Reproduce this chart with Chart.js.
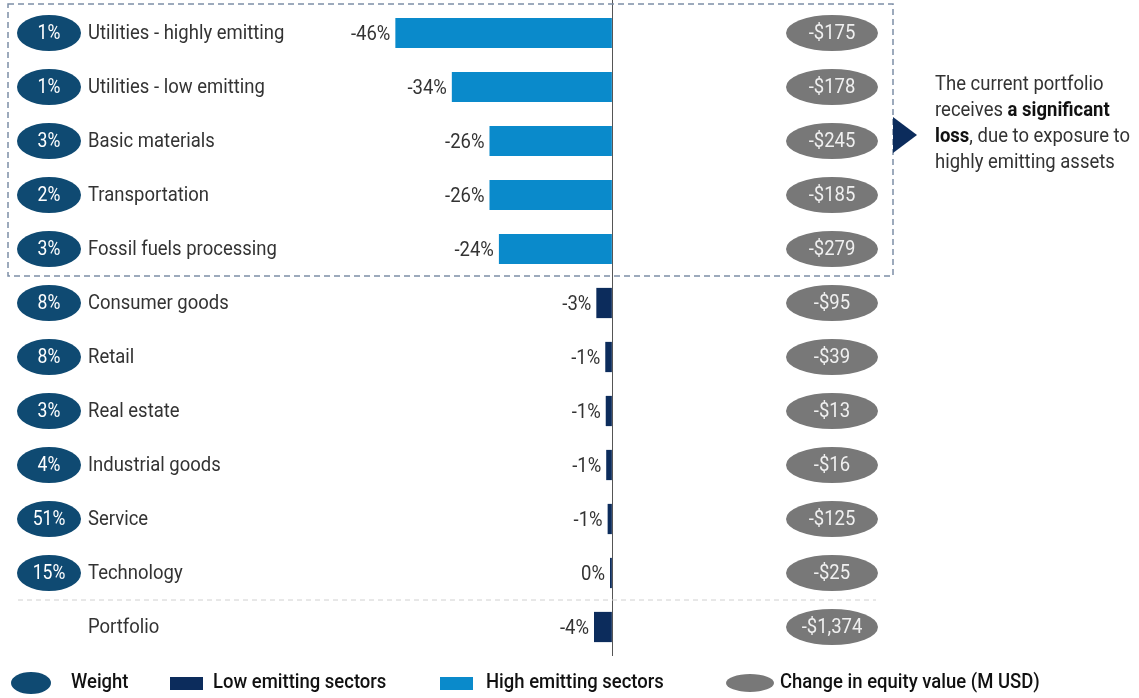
<!DOCTYPE html>
<html>
<head>
<meta charset="utf-8">
<script src="https://cdn.jsdelivr.net/npm/chart.js@4.4.1/dist/chart.umd.min.js"></script>
<style>
  html, body { margin: 0; padding: 0; background: #fff; }
  #wrap { width: 1139px; height: 698px; position: relative; }
</style>
</head>
<body>
<div id="wrap"><canvas id="myChart" width="1139" height="698"></canvas></div>
<script>
// sectors, top to bottom
const sectors = ['Utilities - highly emitting', 'Utilities - low emitting', 'Basic materials', 'Transportation',
    'Fossil fuels processing', 'Consumer goods', 'Retail', 'Real estate', 'Industrial goods', 'Service',
    'Technology', 'Portfolio'];
const weights = ['1%', '1%', '3%', '2%', '3%', '8%', '8%', '3%', '4%', '51%', '15%', ''];
const changePct = [-46, -34, -26, -26, -24, -3.3, -1.4, -1.3, -1.2, -0.9, -0.4, -3.8]; // bar values (%)
const pctLabels = ['-46%', '-34%', '-26%', '-26%', '-24%', '-3%', '-1%', '-1%', '-1%', '-1%', '0%', '-4%'];
const equityChange = ['-$175', '-$178', '-$245', '-$185', '-$279', '-$95', '-$39', '-$13', '-$16', '-$125', '-$25', '-$1,374'];
const emitting = ['high', 'high', 'high', 'high', 'high', 'low', 'low', 'low', 'low', 'low', 'low', 'low'];

const HIGH = '#0a8acb';
const LOW = '#0c2c5c';
const WEIGHT = '#0f4a72';
const GREY = '#787878';
const TEXT = '#333333';
const FONT = 'Roboto, "DejaVu Sans", sans-serif';
const SX = 0.88; // horizontal squeeze, reference uses a narrow face

function drawText(ctx, text, x, y, align, font, color, sx) {
    ctx.save();
    ctx.font = font;
    ctx.fillStyle = color;
    ctx.textBaseline = 'middle';
    ctx.textAlign = align;
    ctx.translate(x, y);
    ctx.scale(sx || SX, 1);
    ctx.fillText(text, 0, 0);
    ctx.restore();
}

function textWidth(ctx, text, font, sx) {
    ctx.font = font;
    return ctx.measureText(text).width * (sx || SX);
}

function ellipse(ctx, cx, cy, rx, ry, color) {
    ctx.beginPath();
    ctx.ellipse(cx, cy, rx, ry, 0, 0, Math.PI * 2);
    ctx.fillStyle = color;
    ctx.fill();
}

const decorPlugin = {
    id: 'decor',
    afterDatasetsDraw(chart) {
        const ctx = chart.ctx;
        const x = chart.scales.x;
        const y = chart.scales.y;
        const zero = x.getPixelForValue(0);
        const meta = chart.getDatasetMeta(0);
        const f = '21px ' + FONT;

        sectors.forEach((name, i) => {
            const cy = y.getPixelForValue(i);
            if (weights[i]) {
                ellipse(ctx, 49, cy, 32, 18, WEIGHT);
                drawText(ctx, weights[i], 49, cy + 1, 'center', '20px ' + FONT, '#ffffff');
            }
            drawText(ctx, name, 88, cy + 1, 'left', f, TEXT);
            // value label at bar end
            const bar = meta.data[i];
            drawText(ctx, pctLabels[i], bar.x - 5, cy + 2, 'right', f, TEXT);
            // change in equity value
            ellipse(ctx, 832, cy, 46, 18, GREY);
            drawText(ctx, equityChange[i], 832, cy + 1, 'center', f, '#f0f0f0');
        });

        // zero axis
        ctx.save();
        ctx.strokeStyle = '#555';
        ctx.lineWidth = 1;
        ctx.beginPath();
        ctx.moveTo(Math.round(zero) + 0.5, 0);
        ctx.lineTo(Math.round(zero) + 0.5, 656);
        ctx.stroke();

        // separator before Portfolio
        const sepY = (y.getPixelForValue(10) + y.getPixelForValue(11)) / 2;
        ctx.strokeStyle = '#d0d0d0';
        ctx.setLineDash([5, 4]);
        ctx.beginPath();
        ctx.moveTo(18, sepY);
        ctx.lineTo(876, sepY);
        ctx.stroke();

        // dashed box around high emitting sectors
        const boxBottom = (y.getPixelForValue(4) + y.getPixelForValue(5)) / 2;
        ctx.strokeStyle = '#7d8ea6';
        ctx.lineWidth = 1.5;
        ctx.setLineDash([6, 4]);
        ctx.strokeRect(8, 4, 885, boxBottom - 4);
        ctx.restore();

        // arrow and note
        ctx.beginPath();
        ctx.moveTo(893, 117);
        ctx.lineTo(893, 153);
        ctx.lineTo(917, 135);
        ctx.closePath();
        ctx.fillStyle = LOW;
        ctx.fill();

        const nx = 935;
        const nb = 'bold 21px ' + FONT;
        drawText(ctx, 'The current portfolio', nx, 85, 'left', f, TEXT);
        drawText(ctx, 'receives ', nx, 111, 'left', f, TEXT);
        drawText(ctx, 'a significant', nx + textWidth(ctx, 'receives ', f), 111, 'left', nb, '#111');
        drawText(ctx, 'loss', nx, 137, 'left', nb, '#111');
        drawText(ctx, ', due to exposure to', nx + textWidth(ctx, 'loss', nb), 137, 'left', f, TEXT);
        drawText(ctx, 'highly emitting assets', nx, 163, 'left', f, TEXT);

        // legend
        const ly = 683;
        const lf = '500 21px ' + FONT;
        ellipse(ctx, 31, ly, 20, 11, WEIGHT);
        drawText(ctx, 'Weight', 71, ly, 'left', lf, '#111');
        ctx.fillStyle = LOW;
        ctx.fillRect(170, ly - 6, 33, 13);
        drawText(ctx, 'Low emitting sectors', 213, ly, 'left', lf, '#111');
        ctx.fillStyle = HIGH;
        ctx.fillRect(440, ly - 6, 33, 13);
        drawText(ctx, 'High emitting sectors', 486, ly, 'left', lf, '#111');
        ellipse(ctx, 750, ly, 24, 9, GREY);
        drawText(ctx, 'Change in equity value (M USD)', 780, ly, 'left', lf, '#111');
    }
};

const ctx = document.getElementById('myChart').getContext('2d');
const myChart = new Chart(ctx, {
    type: 'bar',
    data: {
        labels: sectors,
        datasets: [{
            data: changePct,
            backgroundColor: emitting.map(e => e === 'high' ? HIGH : LOW),
            borderWidth: 0,
            barPercentage: 0.56,
            categoryPercentage: 1
        }]
    },
    options: {
        indexAxis: 'y',
        responsive: false,
        animation: false,
        layout: { padding: { top: 6, bottom: 44, left: 0, right: 0 } },
        plugins: { legend: { display: false }, tooltip: { enabled: false } },
        scales: {
            x: { min: -130, max: 112, display: false, grid: { display: false } },
            y: { display: false, grid: { display: false } }
        }
    },
    plugins: [decorPlugin]
});
</script>
</body>
</html>
